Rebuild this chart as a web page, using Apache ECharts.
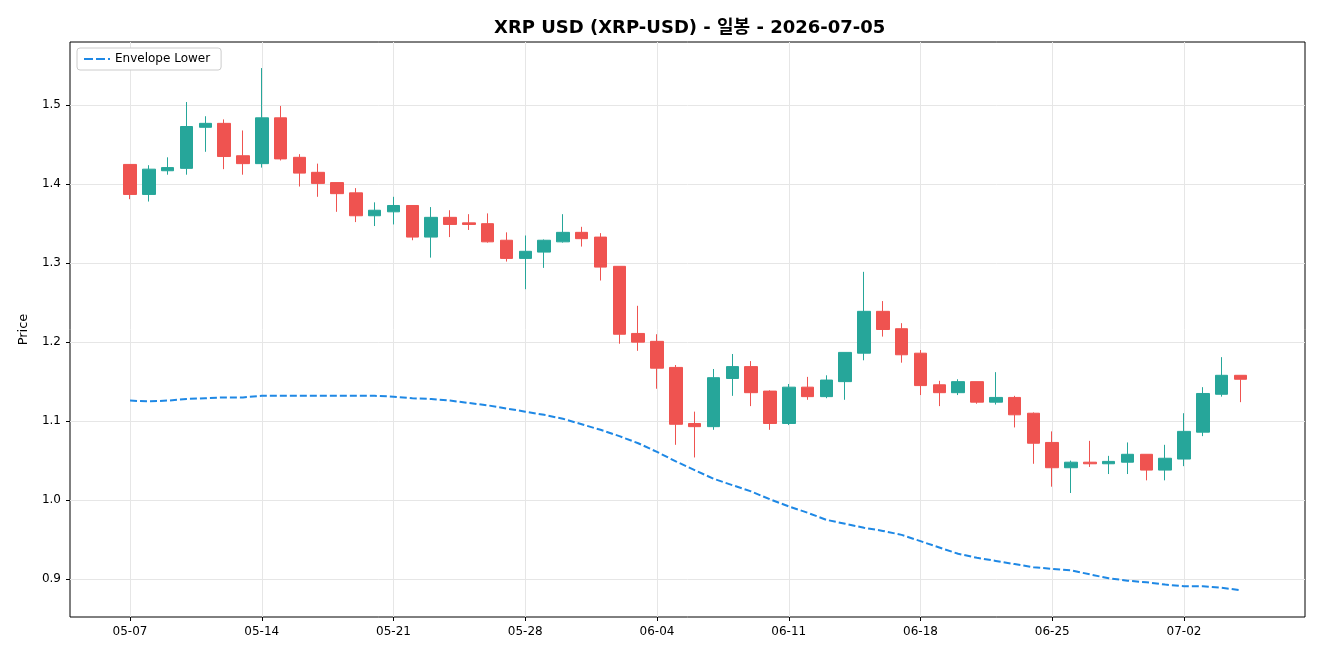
<!DOCTYPE html>
<html>
<head>
<meta charset="utf-8">
<title>XRP-USD</title>
<script src="https://cdn.jsdelivr.net/npm/echarts@6/dist/echarts.min.js"></script>
<style>
html,body{margin:0;padding:0;background:#fff;}
#chart{width:1320px;height:660px;}
</style>
</head>
<body>
<div id="chart"></div>
<script>
var dates = ['05-07','05-08','05-09','05-10','05-11','05-12','05-13','05-14','05-15','05-16',
	'05-17','05-18','05-19','05-20','05-21','05-22','05-23','05-24','05-25','05-26',
	'05-27','05-28','05-29','05-30','05-31','06-01','06-02','06-03','06-04','06-05',
	'06-06','06-07','06-08','06-09','06-10','06-11','06-12','06-13','06-14','06-15',
	'06-16','06-17','06-18','06-19','06-20','06-21','06-22','06-23','06-24','06-25',
	'06-26','06-27','06-28','06-29','06-30','07-01','07-02','07-03','07-04','07-05'];
var open = [1.425,1.387,1.417,1.420,1.472,1.477,1.436,1.426,1.484,1.434,
	1.415,1.402,1.389,1.360,1.365,1.373,1.333,1.358,1.351,1.350,
	1.329,1.306,1.314,1.327,1.339,1.333,1.296,1.211,1.201,1.168,
	1.097,1.093,1.154,1.169,1.138,1.097,1.143,1.131,1.150,1.186,
	1.239,1.217,1.186,1.146,1.136,1.150,1.124,1.130,1.110,1.073,
	1.041,1.048,1.046,1.048,1.058,1.038,1.052,1.086,1.134,1.158];
var close = [1.387,1.419,1.421,1.473,1.477,1.435,1.426,1.484,1.432,1.414,
	1.401,1.388,1.360,1.367,1.373,1.333,1.358,1.349,1.349,1.327,
	1.306,1.315,1.329,1.339,1.331,1.295,1.210,1.200,1.167,1.096,
	1.093,1.155,1.169,1.136,1.097,1.143,1.131,1.152,1.187,1.239,
	1.216,1.184,1.145,1.136,1.150,1.124,1.130,1.108,1.072,1.041,
	1.048,1.046,1.049,1.058,1.038,1.053,1.087,1.135,1.158,1.153];
var low = [1.381,1.378,1.412,1.412,1.441,1.419,1.412,1.421,1.430,1.397,
	1.384,1.365,1.352,1.347,1.349,1.329,1.307,1.333,1.342,1.326,
	1.302,1.267,1.294,1.326,1.321,1.278,1.198,1.189,1.141,1.070,
	1.054,1.089,1.132,1.119,1.089,1.095,1.127,1.129,1.127,1.177,
	1.207,1.174,1.133,1.119,1.133,1.122,1.121,1.092,1.046,1.017,
	1.009,1.042,1.033,1.033,1.025,1.025,1.043,1.081,1.131,1.124];
var high = [1.425,1.424,1.434,1.504,1.486,1.482,1.468,1.547,1.499,1.438,
	1.426,1.402,1.395,1.377,1.384,1.373,1.371,1.367,1.362,1.363,
	1.339,1.335,1.330,1.362,1.346,1.338,1.296,1.246,1.210,1.171,
	1.112,1.166,1.185,1.176,1.139,1.147,1.156,1.158,1.187,1.289,
	1.252,1.224,1.190,1.151,1.153,1.150,1.162,1.132,1.111,1.087,
	1.050,1.075,1.056,1.073,1.058,1.070,1.110,1.143,1.181,1.158];
//Envelope Lower
var envLower = [1.126,1.125,1.126,1.128,1.129,1.130,1.130,1.132,1.132,1.132,
	1.132,1.132,1.132,1.132,1.131,1.129,1.128,1.126,1.123,1.120,
	1.116,1.112,1.108,1.103,1.096,1.089,1.081,1.072,1.061,1.049,
	1.038,1.027,1.019,1.011,1.001,0.992,0.984,0.975,0.970,0.965,
	0.961,0.956,0.948,0.940,0.932,0.927,0.923,0.919,0.915,0.913,
	0.911,0.906,0.901,0.898,0.896,0.893,0.891,0.891,0.889,0.886];
var xTicks = [0,7,14,21,28,35,42,49,56];
var yTicks = [0.9,1.0,1.1,1.2,1.3,1.4,1.5];

var font = '"DejaVu Sans", "Noto Sans CJK KR", sans-serif';
var chart;

function showChart(){
	chart = echarts.init(document.getElementById("chart"));
	var candles = [];
	var env = [];
	for(var i=0;i<dates.length;i++){
		candles.push([i, open[i], close[i], low[i], high[i]]);
		env.push([i, envLower[i]]);
	}
	var option = {
		animation: false,
		backgroundColor: '#fff',
		textStyle: {fontFamily: font},
		title: {
			text: 'XRP USD (XRP-USD) - 일봉 - 2026-07-05',
			left: 489,//centred over the plot, not the page
			top: 14,
			textStyle: {fontSize: 18, fontWeight: 'bold', color: '#000', fontFamily: font}
		},
		legend: {
			left: 77,
			top: 48,
			data: [{
				name: 'Envelope Lower',
				//dashed legend mark like the reference
				icon: 'path://M0,0H9V2H0Z M12,0H21V2H12Z M24,0H26V2H24Z'
			}],
			itemWidth: 26,
			itemHeight: 2,
			itemGap: 10,
			padding: [5, 11, 5, 7],
			backgroundColor: '#fff',
			borderColor: '#cccccc',
			borderWidth: 1,
			borderRadius: 3,
			textStyle: {fontSize: 12, color: '#000', fontFamily: font}
		},
		grid: {
			left: 70, right: 15, top: 42, bottom: 43,
			show: true,
			borderColor: '#000',
			borderWidth: 1,
			backgroundColor: '#fff'
		},
		xAxis: {
			type: 'value',
			min: -3.19,
			max: 62.43,
			axisLine: {show: false, onZero: false},
			axisTick: {show: true, length: 4, lineStyle: {color: '#000'}, customValues: xTicks},
			axisLabel: {
				customValues: xTicks,
				margin: 9,
				fontSize: 12,
				color: '#000',
				formatter: function(v){ return dates[Math.round(v)]; }
			},
			splitLine: {show: true, lineStyle: {color: '#e6e6e6', width: 1}}
		},
		yAxis: {
			type: 'value',
			min: 0.852,
			max: 1.58,
			name: 'Price',
			nameLocation: 'middle',
			nameGap: 40,
			nameTextStyle: {fontSize: 13, color: '#000'},
			axisLine: {show: false, onZero: false},
			axisTick: {show: true, length: 4, lineStyle: {color: '#000'}, customValues: yTicks},
			axisLabel: {
				customValues: yTicks,
				margin: 9,
				fontSize: 12,
				color: '#000',
				formatter: function(v){ return v.toFixed(1); }
			},
			splitLine: {show: true, lineStyle: {color: '#e6e6e6', width: 1}}
		},
		series: [
			{
				name: 'XRP-USD',
				type: 'candlestick',
				data: candles,
				encode: {x: 0, y: [1, 2, 3, 4]},
				barWidth: 13,
				itemStyle: {
					color: '#26a69a',
					color0: '#ef5350',
					borderColor: '#26a69a',
					borderColor0: '#ef5350',
					borderWidth: 1
				}
			},
			{
				name: 'Envelope Lower',
				type: 'line',
				data: env,
				symbol: 'none',
				showSymbol: false,
				lineStyle: {color: '#1e88e5', width: 2, type: [7, 3]},
				itemStyle: {color: '#1e88e5'}
			}
		]
	};
	chart.setOption(option);
}

showChart();
</script>
</body>
</html>
